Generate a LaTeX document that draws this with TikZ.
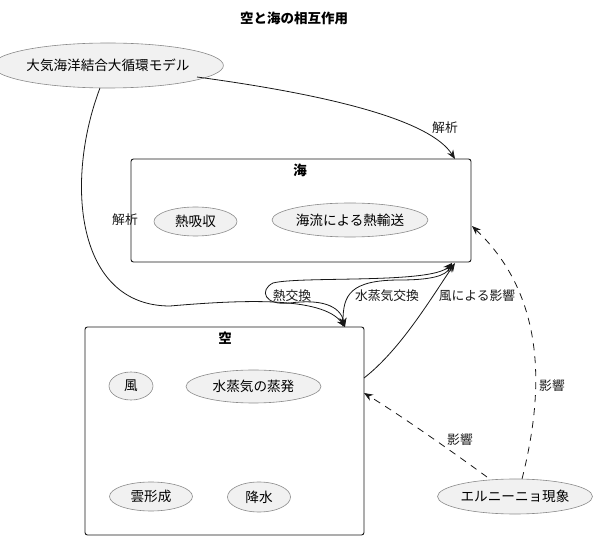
\documentclass[tikz,border=0pt]{standalone}
\usepackage{fontspec}
\setmainfont{Noto Sans CJK JP}
\usetikzlibrary{arrows.meta,shapes.geometric}
\definecolor{linec}{HTML}{181818}
\definecolor{ucfill}{HTML}{F1F1F1}
\definecolor{ucborder}{HTML}{8A8A8A}
\begin{document}
\begin{tikzpicture}[x=1pt,y=-1pt,
  uc/.style={ellipse, draw=ucborder, fill=ucfill, line width=0.6pt, inner sep=0pt, font=\fontsize{13.6}{14}\selectfont},
  pkg/.style={draw=linec, line width=0.9pt, rounded corners=2.5pt, inner sep=0pt},
  ttl/.style={font=\bfseries\fontsize{13.5}{14}\selectfont, inner sep=0pt},
  conn/.style={draw=linec, line width=0.8pt, -{Stealth[length=9pt,width=7pt,inset=3pt]}},
  bconn/.style={draw=linec, line width=0.8pt, {Stealth[length=9pt,width=7pt,inset=3pt]}-{Stealth[length=9pt,width=7pt,inset=3pt]}},
  lbl/.style={font=\fontsize{12.8}{13}\selectfont, inner sep=0pt, text=linec},
  dsh/.style={dash pattern=on 7pt off 6pt}]
\useasboundingbox (0,0) rectangle (598,540);

\node[ttl] (title) at (294,18) {空と海の相互作用};

\node[uc, minimum width=204, minimum height=45] (model) at (108,65.5) {大気海洋結合大循環モデル};

% ocean package
\node[pkg, minimum width=340, minimum height=103] (ocean) at (301,210.5) {};
\node[ttl] (oceant) at (300,170) {海};
\node[uc, minimum width=83, minimum height=29] (heatabs) at (195.5,221.5) {熱吸収};
\node[uc, minimum width=156, minimum height=34] (current) at (350,220) {海流による熱輸送};

% sky package
\node[pkg, minimum width=279, minimum height=208] (sky) at (224.5,431) {};
\node[ttl] (skyt) at (225,338) {空};
\node[uc, minimum width=44, minimum height=28] (wind) at (131,386) {風};
\node[uc, minimum width=135, minimum height=33] (evap) at (253.5,386.5) {水蒸気の蒸発};
\node[uc, minimum width=83, minimum height=29] (cloud) at (151,496.5) {雲形成};
\node[uc, minimum width=63, minimum height=30] (rain) at (259,497) {降水};

\node[uc, minimum width=155, minimum height=35] (elnino) at (515,496.5) {エルニーニョ現象};

% attachment points on the packages
\coordinate (oT) at (455,159);
\coordinate (oB1) at (452,263);
\coordinate (oB2) at (455,263);
\coordinate (oR) at (472,226);
\coordinate (sT) at (345,327);
\coordinate (sT2) at (343,327);
\coordinate (sR1) at (364,393);
\coordinate (sR2) at (364,378);
\coordinate (mA) at (197,77);
\coordinate (mB) at (100,88);
\coordinate (eA) at (487,477);
\coordinate (eB) at (522,479);

% model -> ocean
\draw[conn] (mA) .. controls (330,95) and (430,120) .. (oT);
\node[lbl] (l1) at (445,128) {解析};

% model -> sky
\draw[conn] (mB) .. controls (65,180) and (75,306) .. (170,306)
  .. controls (240,300) and (322,296) .. (sT);
\node[lbl] (l2) at (125,220) {解析};

% heat exchange
\draw[bconn] (oB1) .. controls (432,284) and (300,276) .. (273,283)
  .. controls (259,290) and (264,306) .. (290,303)
  .. controls (320,299) and (340,305) .. (sT);
\node[lbl] (l3) at (292,296) {熱交換};

% vapour exchange
\draw[bconn] (sT2) .. controls (343,295) and (350,280) .. (400,280)
  .. controls (430,280) and (446,276) .. (oB1);
\node[lbl] (l4) at (387,296) {水蒸気交換};

% wind influence
\draw[conn] (sR2) .. controls (400,350) and (430,300) .. (oB2);
\node[lbl] (l5) at (477,296) {風による影響};

% el nino
\draw[conn, dsh] (eA) .. controls (450,450) and (400,415) .. (sR1);
\node[lbl] (l6) at (460,440) {影響};
\draw[conn, dsh] (eB) .. controls (542,400) and (550,300) .. (oR);
\node[lbl] (l7) at (552,386) {影響};
\end{tikzpicture}
\end{document}
